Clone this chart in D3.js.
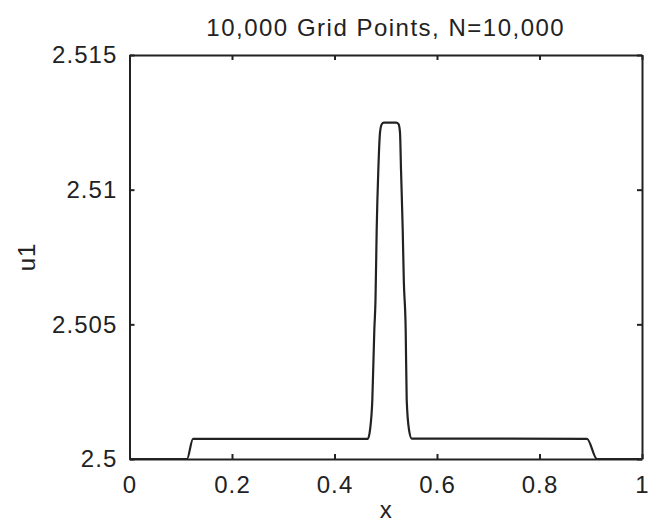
<!DOCTYPE html>
<html>
<head>
<meta charset="utf-8">
<script src="https://cdn.jsdelivr.net/npm/d3@7"></script>
<style>
  body { margin: 0; background: #fff; }
  svg text { font-family: "Liberation Sans", Arial, sans-serif; fill: #222; }
</style>
</head>
<body>
<svg id="graph"></svg>
<script>
// data
var xs = [0, 0.1122, 0.1239, 0.4651, 0.4693, 0.4738, 0.4777, 0.4800, 0.4823, 0.4855, 0.4888, 0.4922, 0.4962,
          0.5204, 0.5250, 0.5278, 0.5298, 0.5331, 0.5352, 0.5389, 0.5409, 0.5454, 0.5506, 0.8927, 0.9122, 1];
var u1 = [2.5, 2.5, 2.50075, 2.50075, 2.50108, 2.50219, 2.50479, 2.5059, 2.5085, 2.51073, 2.51212, 2.51243, 2.51249,
          2.51249, 2.51243, 2.51212, 2.51073, 2.5085, 2.50665, 2.50479, 2.50219, 2.50108, 2.50076, 2.50075, 2.5, 2.5];
var xTicks = [0, 0.2, 0.4, 0.6, 0.8, 1];
var yTicks = [2.5, 2.505, 2.51, 2.515];
var title = '10,000 Grid Points, N=10,000';

var W = 649, H = 522;
var margin = { top: 55, left: 129.5, bottom: 63, right: 7 };
var width = W - margin.left - margin.right;
var height = H - margin.top - margin.bottom;

var svg = d3.select('#graph')
    .attr('width', W)
    .attr('height', H)
    .append('g')
    .attr('transform', 'translate(' + margin.left + ',' + margin.top + ')');

var xScale = d3.scaleLinear().domain([0, 1]).range([0, width]);
var yScale = d3.scaleLinear().domain([2.5, 2.515]).range([height, 0]);

var fmtY = function (d) { return String(+d.toFixed(3)); };

// bottom & top axes, ticks pointing in
svg.append('g')
    .attr('class', 'x axis')
    .attr('transform', 'translate(0,' + height + ')')
    .call(d3.axisBottom(xScale).tickValues(xTicks).tickSizeInner(-5).tickSizeOuter(0).tickPadding(0)
        .tickFormat(function (d) { return String(d); }));
svg.append('g')
    .attr('class', 'x2 axis')
    .call(d3.axisTop(xScale).tickValues(xTicks).tickSizeInner(-5).tickSizeOuter(0).tickFormat(''));

// left & right axes
svg.append('g')
    .attr('class', 'y axis')
    .call(d3.axisLeft(yScale).tickValues(yTicks).tickSizeInner(-5).tickSizeOuter(0).tickPadding(12)
        .tickFormat(fmtY));
svg.append('g')
    .attr('class', 'y2 axis')
    .attr('transform', 'translate(' + width + ',0)')
    .call(d3.axisRight(yScale).tickValues(yTicks).tickSizeInner(-5).tickSizeOuter(0).tickFormat(''));

svg.selectAll('.axis path').attr('stroke', '#222').attr('stroke-width', 2);
svg.selectAll('.axis line').attr('stroke', '#222').attr('stroke-width', 2);
svg.selectAll('.axis text')
    .style('font-size', '24px')
    .style('letter-spacing', '1.1px')
    .attr('fill', '#222');
svg.selectAll('.x.axis .tick text').attr('y', 34).attr('dy', 0);

// the curve
var line = d3.line()
    .x(function (d, i) { return xScale(xs[i]); })
    .y(function (d) { return yScale(d); })
    .curve(d3.curveMonotoneX);

svg.append('path')
    .datum(u1)
    .attr('fill', 'none')
    .attr('stroke', '#222')
    .attr('stroke-width', 2.2)
    .attr('stroke-linejoin', 'round')
    .attr('d', line);

// title and labels
svg.append('text')
    .attr('x', width / 2)
    .attr('y', -19)
    .attr('text-anchor', 'middle')
    .style('font-size', '24px')
    .style('letter-spacing', '1.5px')
    .text(title);

svg.append('text')
    .attr('x', width / 2)
    .attr('y', height + 59)
    .attr('text-anchor', 'middle')
    .style('font-size', '24px')
    .text('x');

svg.append('text')
    .attr('transform', 'translate(' + (-95) + ',' + (height / 2) + ') rotate(-90)')
    .attr('text-anchor', 'middle')
    .style('font-size', '24px')
    .style('letter-spacing', '1px')
    .text('u1');
</script>
</body>
</html>
